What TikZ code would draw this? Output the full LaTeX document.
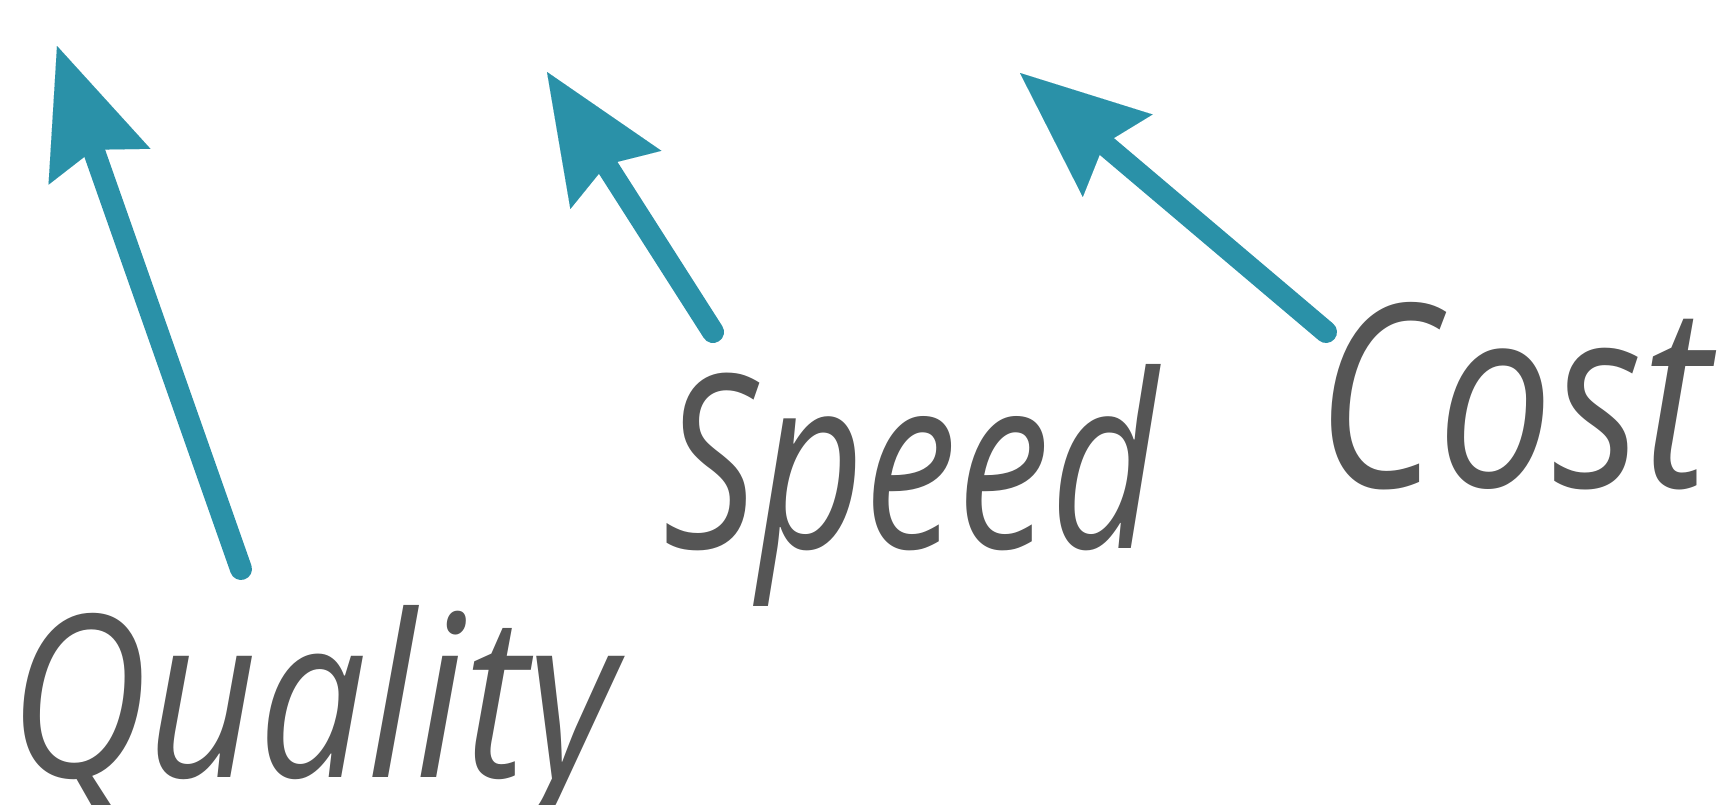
\documentclass[tikz,border=0pt]{standalone}
\usepackage{fontspec}
\setmainfont{Open Sans}
\usetikzlibrary{arrows.meta}
\definecolor{arrowteal}{HTML}{2A91A8}
\definecolor{textgray}{HTML}{555555}
\begin{document}
\begin{tikzpicture}[x=0.5pt,y=-0.5pt,
  arr/.style={draw=arrowteal, fill=arrowteal, line width=11pt, line cap=round,
    -{Stealth[length=64pt,width=54pt,inset=9pt,line width=0.01pt]}},
  lbl/.style={text=textgray, inner sep=0pt, outer sep=0pt, anchor=base west, font=\itshape}]
\useasboundingbox (0,0) rectangle (1733,804);
% arrow end points
\coordinate (qtail) at (241,569);
\coordinate (qtip) at (57,46);
\coordinate (stail) at (713,332);
\coordinate (stip) at (547,72);
\coordinate (ctail) at (1326,332);
\coordinate (ctip) at (1020,73);
% labels
\node[lbl] (quality) at (9,777) {\resizebox{303.5pt}{86pt}{Quality}};
\node[lbl] (speed) at (663.5,548) {\resizebox{247pt}{92pt}{Speed}};
\node[lbl] (cost) at (1316,487) {\resizebox{197pt}{92.5pt}{Cost}};
% arrows
\draw[arr] (qtail) -- (qtip);
\draw[arr] (stail) -- (stip);
\draw[arr] (ctail) -- (ctip);
\end{tikzpicture}
\end{document}
